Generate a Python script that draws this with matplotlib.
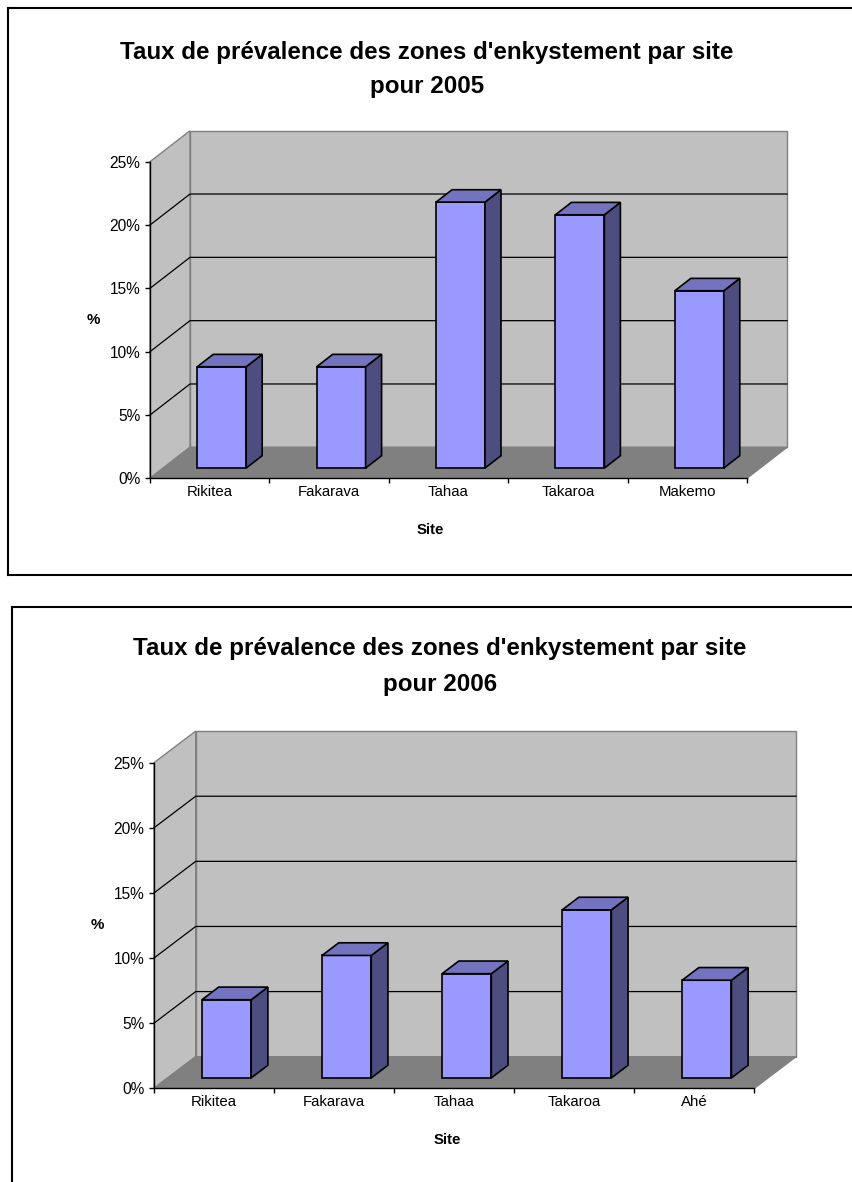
import matplotlib
matplotlib.use("Agg")
import matplotlib.pyplot as plt
from matplotlib.patches import Polygon
from matplotlib.lines import Line2D

plt.rcParams["font.family"] = ["Liberation Sans", "DejaVu Sans"]

# ---- data -------------------------------------------------------------
sites_2005 = ["Rikitea", "Fakarava", "Tahaa", "Takaroa", "Makemo"]
rates_2005 = [8.0, 8.0, 21.0, 20.0, 14.0]

sites_2006 = ["Rikitea", "Fakarava", "Tahaa", "Takaroa", "Ahé"]
rates_2006 = [6.0, 9.4, 8.0, 12.9, 7.5]

pct_ticks = [0, 5, 10, 15, 20, 25]
title_line = "Taux de prévalence des zones d'enkystement par site"
years = ["2005", "2006"]
x_title = "Site"
y_title = "%"

# ---- figure -----------------------------------------------------------
W, H = 852, 1182
fig = plt.figure(figsize=(W / 100, H / 100), dpi=100)

FRONT = "#9999FF"
SIDE = "#4D4D80"
TOP = "#7373BF"
WALL = "#C0C0C0"
FLOOR = "#808080"
EDGE = "#808080"


def fx(px):
    return px / W


def fy(py):
    return 1 - py / H


def frame(x0, y0, x1, y1, sides):
    kw = dict(color="black", lw=1.5, transform=fig.transFigure)
    if "l" in sides:
        fig.add_artist(Line2D([fx(x0), fx(x0)], [fy(y0), fy(y1)], **kw))
    if "t" in sides:
        fig.add_artist(Line2D([fx(x0), fx(x1)], [fy(y0), fy(y0)], **kw))
    if "b" in sides:
        fig.add_artist(Line2D([fx(x0), fx(x1)], [fy(y1), fy(y1)], **kw))


def chart(sites, rates, year, left, right, base, top, ddx_px, ddy_px,
          title_pos, label_pos_pct, label_pos_site):
    n = len(sites)
    vmax = pct_ticks[-1]
    ax = fig.add_axes([fx(left), fy(base), fx(right) - fx(left),
                       fy(top) - fy(base)])
    ax.set_xlim(0, n)
    ax.set_ylim(0, vmax)
    ax.patch.set_visible(False)

    # oblique depth offsets, in data units
    ddx = ddx_px / ((right - left) / n)
    ddy = ddy_px / ((base - top) / vmax)

    def P(x, y, d):
        return (x + d * ddx, y + d * ddy)

    def poly(pts, fc, ec, z, lw=1.0):
        ax.add_patch(Polygon(pts, closed=True, fc=fc, ec=ec, lw=lw,
                             zorder=z, clip_on=False, joinstyle="miter"))

    # walls and floor
    poly([P(0, 0, 1), P(n, 0, 1), P(n, vmax, 1), P(0, vmax, 1)],
         WALL, EDGE, 0.5)
    poly([P(0, 0, 0), P(0, 0, 1), P(0, vmax, 1), P(0, vmax, 0)],
         WALL, EDGE, 0.5)
    for v in pct_ticks[1:-1]:
        xs, ys = zip(P(0, v, 0), P(0, v, 1), P(n, v, 1))
        ax.plot(xs, ys, color="black", lw=0.9, zorder=0.6, clip_on=False)
    poly([P(0, 0, 0), P(n, 0, 0), P(n, 0, 1), P(0, 0, 1)],
         FLOOR, EDGE, 0.7)

    # 3-D columns
    bw, d0, d1 = 0.41, 0.33, 0.73
    for i, v in enumerate(rates):
        xl = i + (1 - bw) / 2 - 0.01
        xr = xl + bw
        poly([P(xl, 0, d0), P(xr, 0, d0), P(xr, v, d0), P(xl, v, d0)],
             FRONT, "black", 3, 1.2)
        poly([P(xr, 0, d0), P(xr, 0, d1), P(xr, v, d1), P(xr, v, d0)],
             SIDE, "black", 3, 1.2)
        poly([P(xl, v, d0), P(xr, v, d0), P(xr, v, d1), P(xl, v, d1)],
             TOP, "black", 3, 1.2)

    # axes
    for s in ("top", "right"):
        ax.spines[s].set_visible(False)
    for s in ("left", "bottom"):
        ax.spines[s].set_color("black")
        ax.spines[s].set_linewidth(1.0)
        ax.spines[s].set_zorder(2.5)
    ax.set_yticks(pct_ticks)
    ax.set_yticklabels([f"{t}%" for t in pct_ticks])
    ax.tick_params(axis="y", direction="out", length=3.8, width=1.0,
                   pad=3.0, labelsize=11.2, colors="black")
    ax.set_xticks(range(n + 1))
    ax.set_xticklabels([""] * (n + 1))
    ax.set_xticks([i + 0.5 for i in range(n)], minor=True)
    ax.set_xticklabels(sites, minor=True)
    ax.tick_params(axis="x", which="major", direction="out", length=3.8,
                   width=1.0)
    ax.tick_params(axis="x", which="minor", length=0, pad=5,
                   labelsize=10.8)

    fig.text(fx(title_pos[0]), fy(title_pos[1]), title_line, ha="center",
             va="center", fontsize=17.4, fontweight="bold")
    fig.text(fx(title_pos[0]), fy(title_pos[2]), f"pour {year}",
             ha="center", va="center", fontsize=17.4, fontweight="bold")
    fig.text(fx(label_pos_pct[0]), fy(label_pos_pct[1]), y_title,
             ha="center", va="center", fontsize=10.8, fontweight="bold")
    fig.text(fx(label_pos_site[0]), fy(label_pos_site[1]), x_title,
             ha="center", va="center", fontsize=10.8, fontweight="bold")
    return ax


frame(8, 8, W + 5, 574.5, "ltb")
frame(12.3, 607, W + 5, H + 5, "lt")

chart(sites_2005, rates_2005, years[0], 150, 747, 478.3, 161.7, 40, 31,
      (427, 53, 87), (93, 320), (430, 530))
chart(sites_2006, rates_2006, years[1], 154, 754.3, 1088.3, 762.7, 41.7,
      31.6, (440, 649, 684), (97, 925), (447, 1140))

fig.savefig("out.png", dpi=100)
